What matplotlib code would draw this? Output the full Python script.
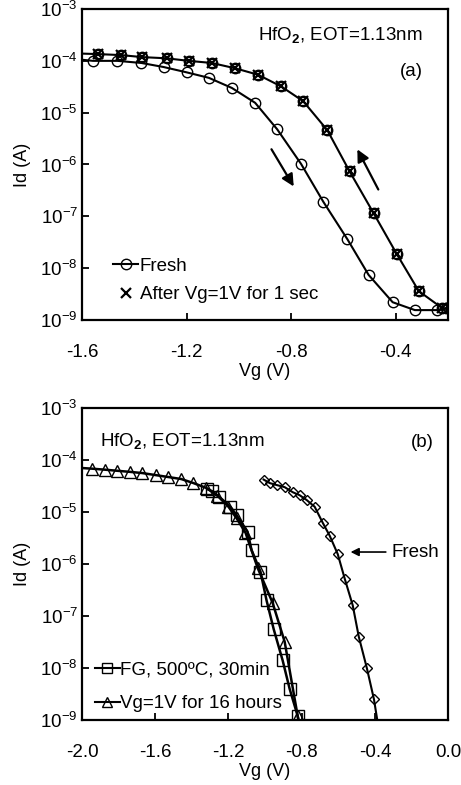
import math
import matplotlib
matplotlib.use("Agg")
import matplotlib.pyplot as plt
from matplotlib.ticker import FixedLocator, FuncFormatter

plt.rcParams['font.family'] = ['Liberation Sans', 'DejaVu Sans']
plt.rcParams['mathtext.fontset'] = 'custom'
plt.rcParams['mathtext.rm'] = 'Liberation Sans'
plt.rcParams['mathtext.bf'] = 'Liberation Sans:bold'
plt.rcParams['font.size'] = 13.5

# Panel (a) data
fresh_a_vg = [-1.558, -1.465, -1.373, -1.288, -1.200, -1.115, -1.027, -0.938, -0.854,
              -0.762, -0.677, -0.585, -0.504, -0.412, -0.327, -0.242, -0.208]
fresh_a_id = [1.00e-4, 1.00e-4, 0.91e-4, 0.76e-4, 0.60e-4, 0.47e-4, 0.30e-4, 1.55e-5, 4.8e-6,
              1.02e-6, 1.9e-7, 3.6e-8, 7.4e-9, 2.2e-9, 1.55e-9, 1.55e-9, 1.7e-9]
after_a_vg = [-1.538, -1.450, -1.369, -1.277, -1.192, -1.104, -1.015, -0.927, -0.838,
              -0.754, -0.662, -0.577, -0.485, -0.396, -0.312, -0.223]
after_a_id = [1.35e-4, 1.29e-4, 1.18e-4, 1.12e-4, 1.00e-4, 0.91e-4, 0.72e-4, 0.54e-4, 0.32e-4,
              1.66e-5, 4.6e-6, 7.4e-7, 1.15e-7, 1.86e-8, 3.6e-9, 1.7e-9]

# Panel (b) data
fresh_b_vg = [-1.008, -0.975, -0.937, -0.893, -0.849, -0.811, -0.773, -0.729, -0.685,
              -0.647, -0.603, -0.564, -0.521, -0.488, -0.444, -0.405]
fresh_b_id = [4.2e-5, 3.6e-5, 3.3e-5, 3.0e-5, 2.4e-5, 2.1e-5, 1.7e-5, 1.26e-5, 6.2e-6,
              3.5e-6, 1.55e-6, 5.1e-7, 1.6e-7, 4.0e-8, 1.0e-8, 2.5e-9]
fg_vg = [-1.315, -1.288, -1.250, -1.189, -1.156, -1.096, -1.074, -1.025, -0.992,
         -0.953, -0.904, -0.866, -0.822]
fg_id = [2.75e-5, 2.5e-5, 1.95e-5, 1.26e-5, 8.7e-6, 4.2e-6, 1.86e-6, 7.1e-7, 2.0e-7,
         5.6e-8, 1.4e-8, 4.0e-9, 1.2e-9]
stress_vg = [-1.945, -1.874, -1.808, -1.737, -1.671, -1.595, -1.529, -1.458, -1.392,
             -1.321, -1.260, -1.200, -1.156, -1.107, -1.040, -0.959, -0.893, -0.822]
stress_id = [6.8e-5, 6.5e-5, 6.2e-5, 5.9e-5, 5.6e-5, 5.1e-5, 4.7e-5, 4.3e-5, 3.6e-5,
             2.9e-5, 2.05e-5, 1.26e-5, 7.6e-6, 4.0e-6, 8.3e-7, 1.8e-7, 3.2e-8, 1.2e-9]

y_ticks = [1e-9, 1e-8, 1e-7, 1e-6, 1e-5, 1e-4, 1e-3]


def exp_label(v, pos):
    e = int(round(math.log10(v)))
    return r'$\mathregular{10^{%d}}$' % e


def style_axes(ax, xlim, xticks):
    ax.set_yscale('log')
    ax.set_ylim(1e-9, 1e-3)
    ax.set_xlim(*xlim)
    ax.yaxis.set_major_locator(FixedLocator(y_ticks))
    ax.yaxis.set_major_formatter(FuncFormatter(exp_label))
    ax.yaxis.set_minor_locator(FixedLocator([]))
    ax.set_xticks(xticks)
    ax.set_xticklabels(['%.1f' % t for t in xticks])
    ax.tick_params(direction='in', length=5, width=1.3, labelsize=13.5)
    ax.tick_params(axis='x', pad=17)
    ax.tick_params(axis='y', pad=3)
    for s in ax.spines.values():
        s.set_linewidth(1.6)
    ax.set_xlabel('Vg (V)', fontsize=13, labelpad=2)
    ax.set_ylabel('Id (A)', fontsize=13, labelpad=7)


fig = plt.figure(figsize=(4.61, 7.85), dpi=100)
ax1 = fig.add_axes([0.178, 0.5924, 0.794, 0.3961])
ax2 = fig.add_axes([0.178, 0.0828, 0.794, 0.3975])

# (a)
ax1.plot([-1.6] + fresh_a_vg, [1.05e-4] + fresh_a_id, '-', color='black', lw=1.5)
ax1.plot(fresh_a_vg, fresh_a_id, 'o', mfc='none', mec='black', ms=7.5, mew=1.0)
ax1.plot([-1.6] + after_a_vg + [-0.2], [1.38e-4] + after_a_id + [1.6e-9], '-', color='black', lw=1.5)
ax1.plot(after_a_vg, after_a_id, 'o', mfc='none', mec='black', ms=7.5, mew=1.0)
ax1.plot(after_a_vg, after_a_id, 's', mfc='none', mec='black', ms=6, mew=0.9)
ax1.plot(after_a_vg, after_a_id, 'x', color='black', ms=7.5, mew=1.6)
h1, = ax1.plot([], [], '-o', color='black', mfc='none', ms=7.5, lw=1.5, label='Fresh')
h2, = ax1.plot([], [], 'x', color='black', ms=7.5, mew=1.6, label='After Vg=1V for 1 sec')
ax1.legend(handles=[h1, h2], loc='lower left', bbox_to_anchor=(0.05, 0.012), frameon=False,
           fontsize=13.5, handlelength=1.3, handletextpad=0.1, labelspacing=0.6, borderpad=0.2)
ax1.annotate('', xy=(-0.785, 10**-6.47), xytext=(-0.881, 10**-5.66),
             arrowprops=dict(arrowstyle='-|>', color='black', lw=1.6, mutation_scale=18))
ax1.annotate('', xy=(-0.552, 10**-5.66), xytext=(-0.462, 10**-6.53),
             arrowprops=dict(arrowstyle='-|>', color='black', lw=1.6, mutation_scale=18))
ax1.text(0.93, 0.915, r'HfO$_\mathbf{2}$, EOT=1.13nm', transform=ax1.transAxes,
         ha='right', va='center', fontsize=13.5)
ax1.text(0.93, 0.80, '(a)', transform=ax1.transAxes, ha='right', va='center', fontsize=13.5)
style_axes(ax1, (-1.6, -0.2), [-1.6, -1.2, -0.8, -0.4])

# (b)
ax2.plot([-2.0] + stress_vg + [-0.815], [7.0e-5] + stress_id + [0.9e-9], '-', color='black', lw=1.8)
ax2.plot(fg_vg + [-0.815], fg_id + [0.9e-9], '-', color='black', lw=1.8)
ax2.plot(fresh_b_vg + [-0.385], fresh_b_id + [0.9e-9], '-', color='black', lw=1.5)
ax2.plot(stress_vg, stress_id, '^', mfc='none', mec='black', ms=8, mew=1.0)
ax2.plot(fg_vg, fg_id, 's', mfc='none', mec='black', ms=8, mew=1.0)
ax2.plot(fresh_b_vg, fresh_b_id, 'D', mfc='none', mec='black', ms=5.5, mew=1.0)
h3, = ax2.plot([], [], '-s', color='black', mfc='none', ms=7.5, lw=1.5, label='FG, 500ºC, 30min')
h4, = ax2.plot([], [], '-^', color='black', mfc='none', ms=7.5, lw=1.5, label='Vg=1V for 16 hours')
ax2.legend(handles=[h3, h4], loc='lower left', bbox_to_anchor=(0.0, -0.018), frameon=False,
           fontsize=13.5, handlelength=1.3, handletextpad=0.05, labelspacing=0.9, borderpad=0.2)
ax2.annotate('Fresh', xy=(-0.548, 10**-5.77), xytext=(-0.31, 10**-5.77),
             ha='left', va='center', fontsize=13.5,
             arrowprops=dict(arrowstyle='-|>', color='black', lw=1.2, mutation_scale=12))
ax2.text(0.05, 0.89, r'HfO$_\mathbf{2}$, EOT=1.13nm', transform=ax2.transAxes,
         ha='left', va='center', fontsize=13.5)
ax2.text(0.96, 0.89, '(b)', transform=ax2.transAxes, ha='right', va='center', fontsize=13.5)
style_axes(ax2, (-2.0, 0.0), [-2.0, -1.6, -1.2, -0.8, -0.4, 0.0])

fig.savefig('out.png', dpi=100)
